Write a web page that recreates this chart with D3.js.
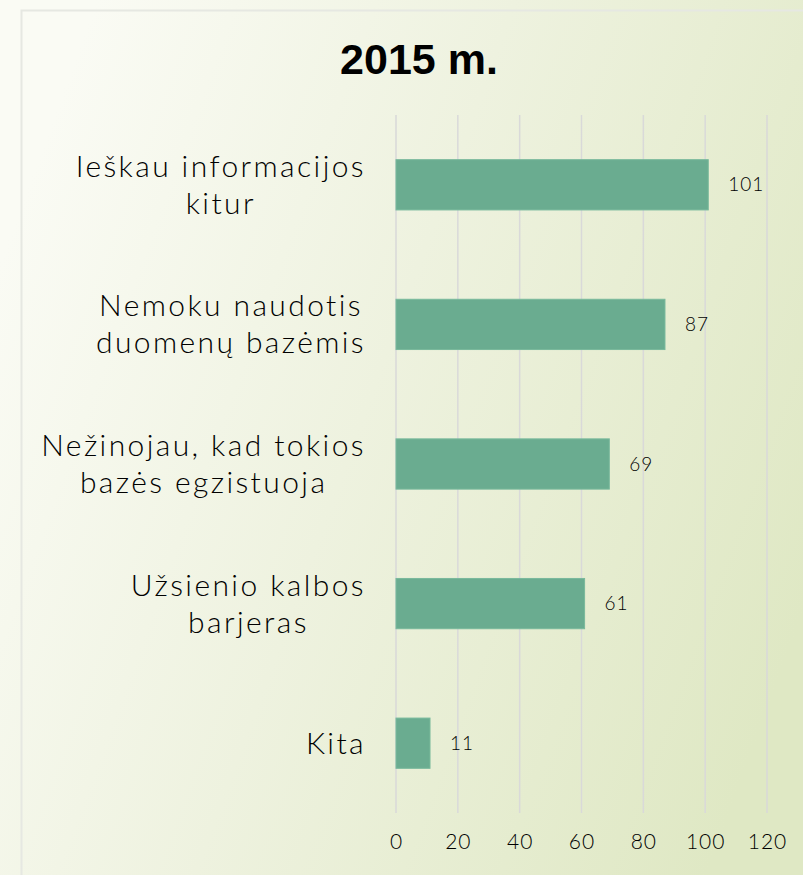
<!DOCTYPE html>
<html>
<head>
<meta charset="utf-8">
<script src="https://cdn.jsdelivr.net/npm/d3@7"></script>
<style>
  html, body { margin: 0; padding: 0; overflow: hidden; }
  svg { display: block; }
  .lbl { font-family: "Century Gothic", "URW Gothic", Lato, sans-serif; font-weight: 300; fill: #000; }
</style>
</head>
<body>
<div id="chart"></div>
<script>
const width = 803;
const height = 875;

const title = "2015 m.";
const categories = [
  "Ieškau informacijos\nkitur",
  "Nemoku naudotis\nduomenų bazėmis",
  "Nežinojau, kad tokios\nbazės egzistuoja",
  "Užsienio kalbos\nbarjeras",
  "Kita"
];
const values = [101, 87, 69, 61, 11];
const xTicks = [0, 20, 40, 60, 80, 100, 120];

const svg = d3.select("#chart")
  .append("svg")
  .attr("width", width)
  .attr("height", height);

// background gradient
const defs = svg.append("defs");
const grad = defs.append("linearGradient")
  .attr("id", "bg")
  .attr("x1", "0").attr("y1", "0.3")
  .attr("x2", "1").attr("y2", "0.7");
grad.append("stop").attr("offset", "0").attr("stop-color", "#fafbf4");
grad.append("stop").attr("offset", "0.45").attr("stop-color", "#eef2df");
grad.append("stop").attr("offset", "1").attr("stop-color", "#dfe8c4");

svg.append("rect")
  .attr("width", width).attr("height", height)
  .attr("fill", "url(#bg)");

// panel frame
svg.append("path")
  .attr("d", `M21.5,${height} V10.5 H${width}`)
  .attr("fill", "none")
  .attr("stroke", "#e6e8e2")
  .attr("stroke-width", 2);

const x = d3.scaleLinear().domain([0, 120]).range([396, 767]);
const y = d3.scaleBand()
  .domain(categories)
  .range([115, 813])
  .paddingInner(0.64)
  .paddingOuter(0.32);

// gridlines
svg.append("g")
  .selectAll("line")
  .data(xTicks)
  .join("line")
  .attr("x1", d => x(d)).attr("x2", d => x(d))
  .attr("y1", 115).attr("y2", 813)
  .attr("stroke", "#d9d9d9")
  .attr("stroke-width", 1.5);

// x axis labels
const xAxis = d3.axisBottom(x).tickValues(xTicks).tickSize(0).tickPadding(0);
const gx = svg.append("g")
  .attr("transform", "translate(0,834)")
  .call(xAxis);
gx.select(".domain").remove();
gx.selectAll("text")
  .attr("class", "lbl")
  .attr("font-size", 21)
  .attr("letter-spacing", 1)
  .attr("dy", "0.71em")
  .attr("fill", "#000");

// bars
svg.append("g")
  .selectAll("rect")
  .data(values)
  .join("rect")
  .attr("x", x(0))
  .attr("y", (d, i) => y(categories[i]))
  .attr("width", d => x(d) - x(0))
  .attr("height", y.bandwidth())
  .attr("fill", "#6aac90")
  .attr("stroke", "#79b99c")
  .attr("stroke-width", 1);

// value labels
svg.append("g")
  .selectAll("text")
  .data(values)
  .join("text")
  .attr("class", "lbl")
  .attr("x", d => x(d) + 20)
  .attr("y", (d, i) => y(categories[i]) + y.bandwidth() / 2)
  .attr("dy", "0.35em")
  .attr("font-size", 19)
  .attr("letter-spacing", 1)
  .text(d => d);

// category labels, centred lines, block right-aligned
const labelRight = 366;
const lineH = 37;
categories.forEach(c => {
  const lines = c.split("\n");
  const cy = y(c) + y.bandwidth() / 2;
  const t = svg.append("text")
    .attr("class", "lbl")
    .attr("font-size", 30)
    .attr("letter-spacing", 2.4)
    .attr("text-anchor", "middle");
  const spans = lines.map((l, i) => t.append("tspan")
    .attr("y", cy + (i - (lines.length - 1) / 2) * lineH)
    .attr("dy", "0.35em")
    .text(l));
  const w = d3.max(spans, s => s.node().getComputedTextLength());
  spans.forEach(s => s.attr("x", labelRight - w / 2));
});

// title
svg.append("text")
  .attr("x", 419)
  .attr("y", 74)
  .attr("text-anchor", "middle")
  .attr("font-family", "'Liberation Sans', Arial, sans-serif")
  .attr("font-weight", "bold")
  .attr("font-size", 43)
  .attr("fill", "#000")
  .text(title);
</script>
</body>
</html>
